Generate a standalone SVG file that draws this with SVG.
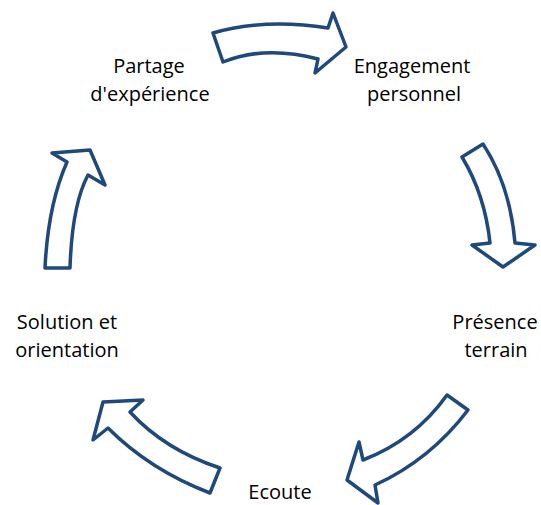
<svg xmlns="http://www.w3.org/2000/svg" width="541" height="505" viewBox="0 0 541 505">
<style>
.arr{fill:#fff;stroke:#1f497d;stroke-width:3.5;stroke-linejoin:round}
.lbl{font-family:"Open Sans","Liberation Sans",Arial,sans-serif;font-size:20px;fill:#000;text-anchor:middle}
</style>
<rect width="541" height="505" fill="#fff"/>
<g id="connectors">
<path class="arr" d="M213,33 Q265,18 328,28 L333,13 L346,47 L315,73 L318,59 Q265,45 223,62 Z"/>
<path class="arr" d="M462,157 L483,144 Q510,185 515,243 L535,245 L503,267 L472,245 L490,243 Q485,195 462,157 Z"/>
<path class="arr" d="M447,395 L468,410 Q430,460 375,485 L378,503 L347,480 L359,442 L363,460 Q415,440 447,395 Z"/>
<path class="arr" d="M103,402 L143,400 L130,412 Q165,450 220,468 L210,493 Q150,470 108,428 L93,440 Z"/>
<path class="arr" d="M45,268 L70,268 Q72,205 88,175 L105,185 L90,150 L52,153 L67,162 Q48,205 45,268 Z"/>
</g>
<g id="partage"><text class="lbl" x="149" y="73">Partage</text><text class="lbl" x="150" y="101">d'expérience</text></g>
<g id="engagement"><text class="lbl" x="412" y="73">Engagement</text><text class="lbl" x="414" y="101">personnel</text></g>
<g id="presence"><text class="lbl" x="495" y="329">Présence</text><text class="lbl" x="496" y="357">terrain</text></g>
<g id="ecoute"><text class="lbl" x="280" y="499">Ecoute</text></g>
<g id="solution"><text class="lbl" x="67" y="329">Solution et</text><text class="lbl" x="67" y="357">orientation</text></g>
</svg>
